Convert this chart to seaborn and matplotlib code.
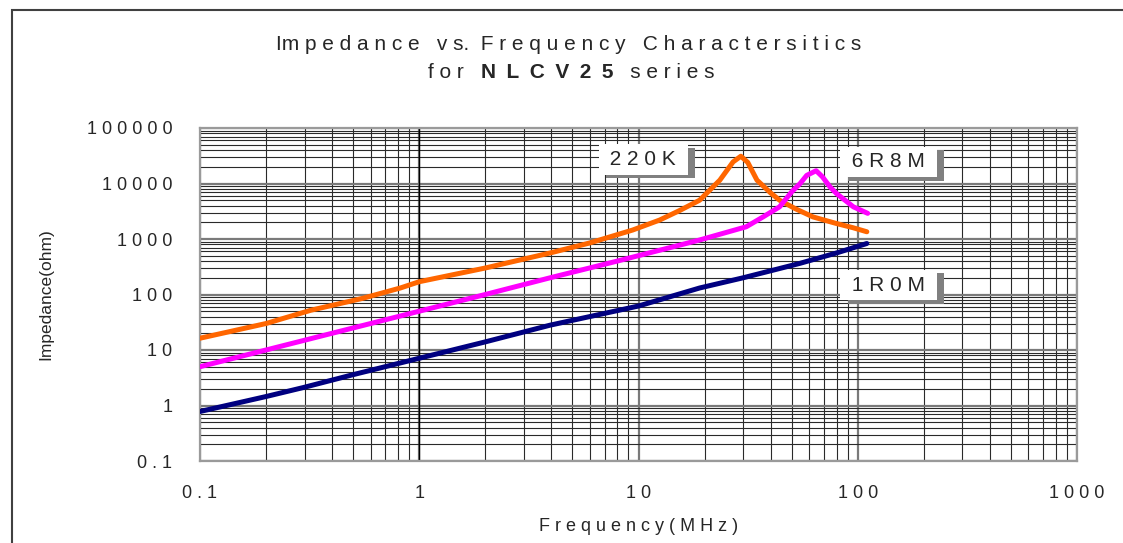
import matplotlib
matplotlib.use('Agg')
import matplotlib.pyplot as plt
import matplotlib.patheffects as pe
from matplotlib.patches import Rectangle
from matplotlib.ticker import LogLocator, NullFormatter
import seaborn as sns
import pandas as pd

# 220K (22uH)
freq_220k = [0.1, 0.2, 0.32, 0.55, 0.82, 1.0, 2.0, 3.95, 6.0, 9.4, 12.5, 15.5, 19.0,
             23.5, 27.0, 29.3, 31.5, 34.7, 40.0, 44.0, 52.0, 62.5, 80.0, 95.0, 110.0]
z_220k = [16.3, 30, 52, 85, 131, 170, 300, 560, 850, 1450, 2200, 3300, 5000,
          11500, 24500, 31000, 24000, 11500, 6800, 5000, 3500, 2500, 1900, 1600, 1350]

# 6R8M (6.8uH)
freq_6r8m = [0.1, 0.2, 0.48, 0.82, 1.0, 2.0, 3.95, 8.0, 15.5, 19.0, 31.0, 37.0, 44.0,
             50.0, 54.6, 58.5, 64.6, 69.0, 74.7, 80.0, 95.5, 111.0]
z_6r8m = [5.0, 10, 24, 41, 50, 100, 200, 400, 780, 960, 1660, 2500, 3800,
          7100, 10000, 14000, 17000, 13200, 8700, 6600, 3800, 2900]

# 1R0M (1uH)
freq_1r0m = [0.1, 0.2, 0.295, 0.5, 1.0, 2.0, 3.95, 10.0, 19.0, 30.0, 54.6, 80.0, 110.0]
z_1r0m = [0.78, 1.45, 2.1, 3.6, 7.1, 14, 28, 62, 131, 200, 365, 560, 830]

parts = ['220K', '6R8M', '1R0M']
colors = ['#FF6600', '#FF00FF', '#000080']

x_ticks = [0.1, 1, 10, 100, 1000]
x_labels = ['0 . 1', '1', '1 0', '1 0 0', '1 0 0 0']
y_ticks = [0.1, 1, 10, 100, 1000, 10000, 100000]
y_labels = ['0 . 1', '1', '1 0', '1 0 0', '1 0 0 0', '1 0 0 0 0', '1 0 0 0 0 0']

# label positions (freq, impedance) for the part name boxes
label_pos = {'220K': (10.5, 27000), '6R8M': (138, 24400), '1R0M': (138, 148)}

df = pd.concat([
    pd.DataFrame({'freq': freq_220k, 'z': z_220k, 'part': '220K'}),
    pd.DataFrame({'freq': freq_6r8m, 'z': z_6r8m, 'part': '6R8M'}),
    pd.DataFrame({'freq': freq_1r0m, 'z': z_1r0m, 'part': '1R0M'}),
])

sns.set_theme(style='white')
plt.rcParams['font.family'] = ['Liberation Sans', 'DejaVu Sans']

W, H = 1123, 543
fig = plt.figure(figsize=(W / 100, H / 100), dpi=100)
ax = fig.add_axes([200 / W, 1 - 461 / H, (1077 - 200) / W, (461 - 128) / H])

ax.set_xscale('log')
ax.set_yscale('log')
ax.set_xlim(0.1, 1000)
ax.set_ylim(0.1, 100000)

# grid first
ax.xaxis.set_minor_locator(LogLocator(base=10, subs=range(2, 10)))
ax.yaxis.set_minor_locator(LogLocator(base=10, subs=range(2, 10)))
ax.xaxis.set_minor_formatter(NullFormatter())
ax.yaxis.set_minor_formatter(NullFormatter())
ax.grid(True, which='minor', color='#2a2a2a', lw=0.8)
ax.grid(True, which='major', color='#7a7a7a', lw=1.6)
ax.set_axisbelow(True)
ax.axvline(1, color='black', lw=1.0, zorder=1)

sns.lineplot(data=df, x='freq', y='z', hue='part', hue_order=parts,
             palette=dict(zip(parts, colors)), estimator=None, sort=False,
             lw=3.6, legend=False, ax=ax, zorder=3)

ax.set_xticks(x_ticks)
ax.set_xticklabels(x_labels, fontsize=13)
ax.set_yticks(y_ticks)
ax.set_yticklabels(y_labels, fontsize=13)
ax.tick_params(axis='both', which='both', length=0)
ax.tick_params(axis='x', pad=17)
ax.tick_params(axis='y', pad=20)
ax.set_xlabel('F r e q u e n c y ( M H z )', fontsize=13, labelpad=12)
ax.set_ylabel('Impedance(ohm)', fontsize=12.5, labelpad=24)

for s in ax.spines.values():
    s.set_color('#9a9a9a')
    s.set_linewidth(1.6)

# part name boxes with a grey drop shadow
for p in parts:
    fx, fz = label_pos[p]
    t = ax.text(fx, fz, ' ' + ' '.join(p) + ' ', fontsize=15, ha='center', va='center',
                zorder=5, bbox=dict(boxstyle='square,pad=0.28', fc='white', ec='none'))
    t.get_bbox_patch().set_path_effects([
        pe.SimplePatchShadow(offset=(5.5, -2.5), shadow_rgbFace='#808080', alpha=1.0),
        pe.Normal()])

# title
fig.text(569 / W, 1 - 44 / H,
         'Im p e d a n c e   v s.  F r e q u e n c y   C h a r a c t e r s i t i c s',
         ha='center', va='center', fontsize=15)
bold = fig.text(547 / W, 1 - 72 / H, 'N\u2002L\u2002C\u2002V\u20022\u20025', ha='center',
                va='center', fontsize=15, fontweight='bold')
ax.annotate('f o r   ', xy=(0, 0.5), xycoords=bold, ha='right', va='center',
            fontsize=15, annotation_clip=False)
ax.annotate('   s e r i e s', xy=(1, 0.5), xycoords=bold, ha='left', va='center',
            fontsize=15, annotation_clip=False)

# outer chart frame
fig.patches.append(Rectangle((12 / W, -0.1), 1.2, 1 - 10 / H + 0.1, fill=False,
                             ec='#404040', lw=1.5, transform=fig.transFigure))

fig.savefig('out.png', dpi=100)
